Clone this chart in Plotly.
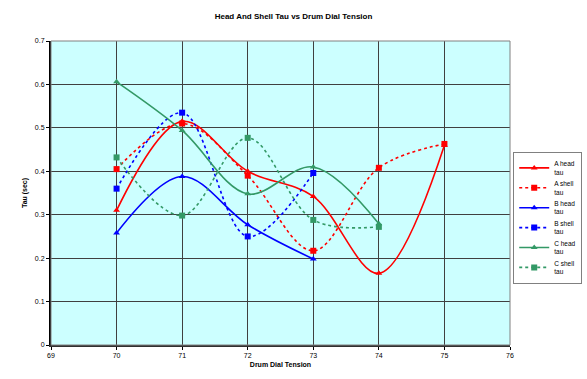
import plotly.graph_objects as go

tension = [70, 71, 72, 73, 74, 75]

a_head = [0.31, 0.515, 0.40, 0.342, 0.165, 0.46]
a_shell = [0.405, 0.51, 0.39, 0.217, 0.408, 0.463]
b_head = [0.258, 0.388, 0.277, 0.198]
b_shell = [0.36, 0.535, 0.25, 0.396]
c_head = [0.606, 0.494, 0.348, 0.41, 0.279]
c_shell = [0.432, 0.298, 0.477, 0.288, 0.272]

x_ticks = [69, 70, 71, 72, 73, 74, 75, 76]
y_ticks = [0, 0.1, 0.2, 0.3, 0.4, 0.5, 0.6, 0.7]

RED = "#FF0000"
BLUE = "#0000FF"
GREEN = "#339966"

series = [
    ("A head<br>tau", a_head, RED, "solid", "triangle-up"),
    ("A shell<br>tau", a_shell, RED, "dot", "square"),
    ("B head<br>tau", b_head, BLUE, "solid", "triangle-up"),
    ("B shell<br>tau", b_shell, BLUE, "dot", "square"),
    ("C head<br>tau", c_head, GREEN, "solid", "triangle-up"),
    ("C shell<br>tau", c_shell, GREEN, "dot", "square"),
]

fig = go.Figure()
for name, vals, color, dash, sym in series:
    fig.add_trace(go.Scatter(
        x=tension[:len(vals)], y=vals, name=name,
        mode="lines+markers",
        line=dict(color=color, width=1.6, dash=dash, shape="spline", smoothing=1.0),
        marker=dict(color=color, symbol=sym, size=6),
    ))

fig.update_layout(
    width=587, height=379,
    margin=dict(l=51, r=77, t=41, b=34, autoexpand=False),
    paper_bgcolor="white",
    plot_bgcolor="#CCFFFF",
    font=dict(family="Liberation Sans, Arial", size=7, color="black"),
    title=dict(text="<b>Head And Shell Tau vs Drum Dial Tension</b>",
               x=0.5, xanchor="center", y=0.965, yanchor="top",
               font=dict(size=8)),
    legend=dict(x=1.007, y=0.635, xanchor="left", yanchor="top",
                bordercolor="#808080", borderwidth=1, bgcolor="white",
                font=dict(size=6.5), tracegroupgap=0, itemwidth=30),
    showlegend=True,
)
fig.update_xaxes(
    range=[69, 76], tickvals=x_ticks, ticktext=[str(v) for v in x_ticks],
    showgrid=True, gridcolor="#404040", gridwidth=1,
    showline=True, linecolor="#303030", linewidth=2, mirror=False,
    ticks="outside", ticklen=3, tickcolor="black",
    title=dict(text="<b>Drum Dial Tension</b>", font=dict(size=7), standoff=4),
    zeroline=False,
)
fig.update_yaxes(
    range=[0, 0.7], tickvals=y_ticks, ticktext=[f"{v:g}" for v in y_ticks],
    showgrid=True, gridcolor="#404040", gridwidth=1,
    showline=True, linecolor="black", linewidth=2,
    ticks="outside", ticklen=3, tickcolor="black",
    title=dict(text="<b>Tau (sec)</b>", font=dict(size=7), standoff=6),
    zeroline=False,
)
fig.add_shape(type="rect", xref="paper", yref="paper", x0=0, y0=0, x1=1, y1=1,
              line=dict(color="#808080", width=1), fillcolor="rgba(0,0,0,0)")

fig.write_html("out.html")
